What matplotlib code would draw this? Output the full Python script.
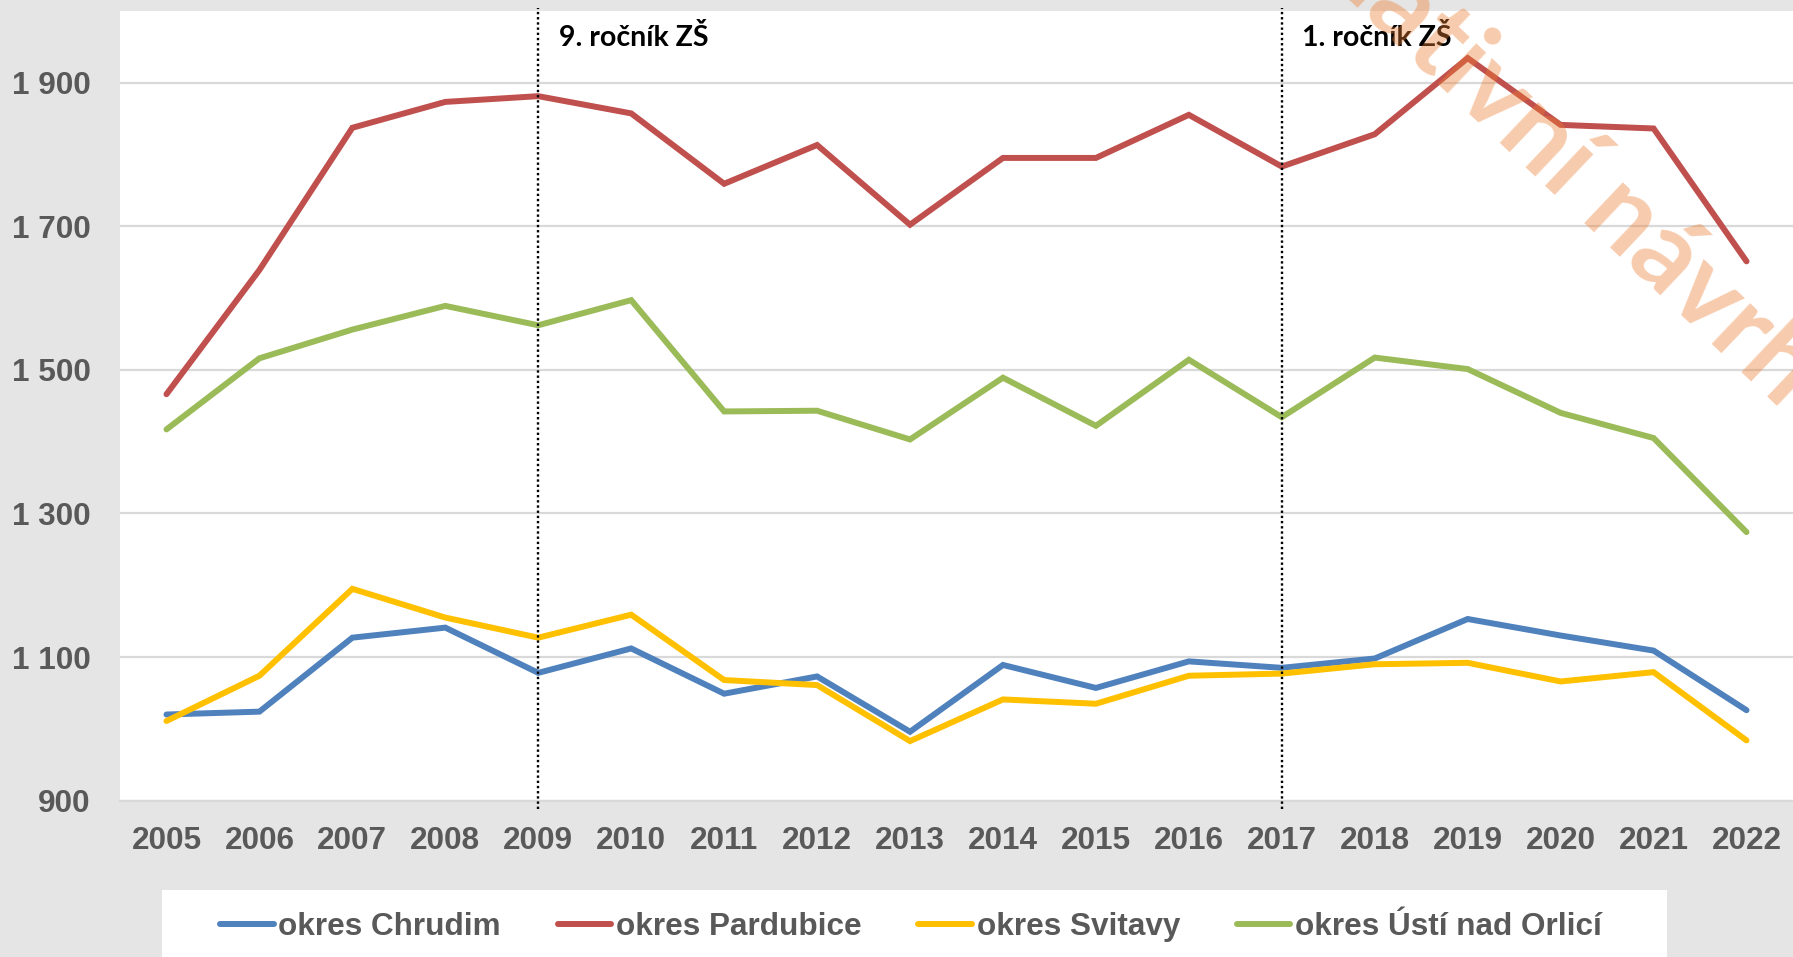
import numpy as np
import matplotlib
matplotlib.use("Agg")
import matplotlib.pyplot as plt
from matplotlib.patches import Rectangle

# roky a hodnoty po okresech
roky = [str(r) for r in range(2005, 2023)]
chrudim = [1020, 1024, 1127, 1141, 1078, 1112, 1049, 1073, 996, 1089, 1057, 1094, 1085, 1098, 1153, 1130, 1109, 1026]
pardubice = [1466, 1639, 1837, 1873, 1881, 1857, 1759, 1813, 1702, 1795, 1795, 1855, 1783, 1828, 1934, 1841, 1836, 1651]
svitavy = [1011, 1074, 1195, 1155, 1127, 1159, 1068, 1061, 983, 1041, 1035, 1074, 1077, 1090, 1092, 1066, 1079, 984]
usti = [1417, 1516, 1556, 1589, 1562, 1597, 1442, 1443, 1403, 1489, 1422, 1514, 1434, 1517, 1501, 1440, 1405, 1274]

nazvy = ["okres Chrudim", "okres Pardubice", "okres Svitavy", "okres Ústí nad Orlicí"]
barvy = ["#4F81BD", "#C0504D", "#FFC000", "#9BBB59"]
yticky = [900, 1100, 1300, 1500, 1700, 1900]
zlom_roky = ["2009", "2017"]
zlom_texty = ["9. ročník ZŠ", "1. ročník ZŠ"]

sedy = "#595959"
pozadi = "#E5E5E5"

fig = plt.figure(figsize=(17.93, 9.57), dpi=100, facecolor=pozadi)
ax = fig.add_axes([120 / 1793, 1 - 800.7 / 957, 1 - 120 / 1793, (800.7 - 10.7) / 957])
ax.set_facecolor("white")

x = np.arange(len(roky))
for hodnoty, nazev, barva in zip([chrudim, pardubice, svitavy, usti], nazvy, barvy):
    ax.plot(x, hodnoty, color=barva, lw=4.3, label=nazev, solid_capstyle="round",
            solid_joinstyle="miter", zorder=3)

ax.set_xlim(-0.5, len(roky) - 0.5)
ax.set_ylim(900, 2000)
ax.set_yticks(yticky)
ax.set_yticklabels(["{:,}".format(v).replace(",", " ") for v in yticky])
ax.set_xticks(x)
ax.set_xticklabels(roky)
ax.grid(axis="y", color="#D9D9D9", lw=1.6, zorder=0)
ax.set_axisbelow(True)
for s in ["left", "right", "top"]:
    ax.spines[s].set_visible(False)
ax.spines["bottom"].set_color("#D9D9D9")
ax.spines["bottom"].set_linewidth(1.6)
ax.tick_params(axis="both", length=0, labelcolor=sedy, labelsize=22.7)
ax.tick_params(axis="x", pad=18.5)
ax.tick_params(axis="y", pad=21)
for t in ax.get_xticklabels() + ax.get_yticklabels():
    t.set_fontfamily("Liberation Sans")
    t.set_fontweight("bold")

# svisle teckovane cary a popisky
for rok, text in zip(zlom_roky, zlom_texty):
    i = roky.index(rok)
    ax.plot([i, i], [889, 2004], color="black", lw=1.7, ls=(0, (1, 1.2)), clip_on=False, zorder=4)
    ax.text(i + 0.22, 1962, text, fontsize=20.5, fontweight="bold", family="Lato",
            color="black", va="center", ha="left", zorder=5)

# bily ramecek legendy
fig.patches.append(Rectangle((162 / 1793, 0), (1667 - 162) / 1793, 67 / 957,
                             transform=fig.transFigure, facecolor="white", edgecolor="none", zorder=0))
h, l = ax.get_legend_handles_labels()
leg = fig.legend(h, l, loc="center left", bbox_to_anchor=(220 / 1793, 1 - 927 / 957), ncol=4,
                 frameon=False, handlelength=1.7, handletextpad=0.15, columnspacing=1.8,
                 borderpad=0, borderaxespad=0,
                 prop={"family": "Liberation Sans", "weight": "bold", "size": 22.7})
for t in leg.get_texts():
    t.set_color(sedy)

# vodoznak
fig.text(1781 / 1793, 1 - 410 / 957, "Legislativní návrh", fontsize=79, fontweight="bold",
         family="Lato", color="#ED7D31", alpha=0.4, rotation=-43.5, rotation_mode="anchor",
         ha="right", va="baseline", zorder=10)

fig.savefig("out.png", dpi=100, facecolor=pozadi)
